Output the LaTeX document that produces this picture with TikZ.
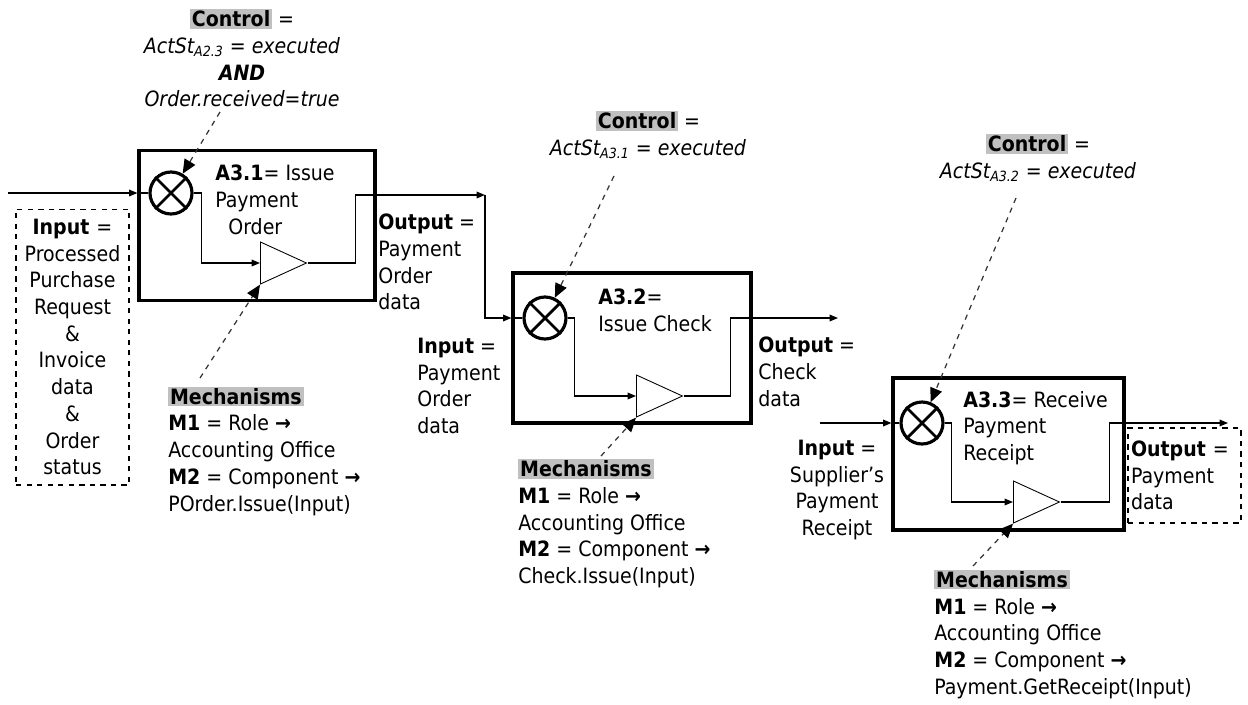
\documentclass[tikz,border=0pt]{standalone}
\usepackage{fontspec}
\setmainfont{DejaVu Sans Condensed}
\usetikzlibrary{arrows.meta,shapes.geometric}
\definecolor{hlgray}{HTML}{C0C0C0}
\definecolor{dashgray}{HTML}{333333}
\newcommand{\hlbox}[1]{{\setlength{\fboxsep}{1pt}\colorbox{hlgray}{\textbf{#1}}}}
\newcommand{\actst}[1]{\textit{ActSt\textsubscript{#1} = executed}}

\begin{document}
\begin{tikzpicture}[x=0.02cm,y=-0.02cm,
  every node/.style={font=\fontsize{12}{15.2}\selectfont,inner sep=0pt},
  actbox/.style={draw,line width=1.8pt,minimum height=3cm},
  joint/.style={draw,circle,line width=1.8pt,minimum size=0.84cm},
  gate/.style={draw,isosceles triangle,isosceles triangle stretches,line width=0.5pt,
    minimum width=0.84cm,minimum height=0.92cm,anchor=lower side},
  flow/.style={line width=0.7pt,-{Triangle[length=4.8pt,width=3.8pt]}},
  trigger/.style={dashed,draw=dashgray,line width=0.7pt,-{Triangle[length=8pt,width=7pt,color=black]}},
  dashbox/.style={draw,dashed,line width=0.6pt,text width=2.14cm,inner xsep=0.06cm}]
  \useasboundingbox (0,0) rectangle (1248,704);

  \node[actbox,minimum width=4.72cm] (b1) at (257,225.5) {};
  \node[actbox,minimum width=4.76cm] (b2) at (632,348) {};
  \node[actbox,minimum width=4.62cm,minimum height=3.04cm] (b3) at (1008.5,454) {};

  \node[joint] (x1) at (171,193) {};
  \node[joint] (x2) at (545,318) {};
  \node[joint] (x3) at (922,423) {};
  \foreach \j in {x1,x2,x3}
    \draw[line width=1.6pt] (\j.north west) -- (\j.south east) (\j.north east) -- (\j.south west);

  \node[gate] (t1) at (260,263) {};
  \node[gate] (t2) at (636,396) {};
  \node[gate] (t3) at (1013,502) {};

  \node[align=center] (c1) at (242,58) {\hlbox{Control} =\\ \actst{A2.3}\\ \textbf{\textit{AND}}\\ \textit{Order.received=true}};
  \node[align=center] (c2) at (648,135) {\hlbox{Control} =\\ \actst{A3.1}};
  \node[align=center] (c3) at (1038,158) {\hlbox{Control} =\\ \actst{A3.2}};

  \node[anchor=west,align=left] (a1) at (215,200) {\textbf{A3.1}= Issue\\Payment\\\hspace*{0.26cm}Order};
  \node[anchor=west,align=left] (a2) at (598,310) {\textbf{A3.2}=\\Issue Check};
  \node[anchor=west,align=left] (a3) at (963,428) {\textbf{A3.3}= Receive\\Payment\\Receipt};

  \node[dashbox,align=center,minimum height=5.52cm] (i1) at (72.5,347) {\textbf{Input} =\\Processed\\Purchase\\Request\\\&\\Invoice\\data\\\&\\Order\\status};
  \node[anchor=west,align=left] (op1) at (378,262) {\textbf{Output} =\\Payment\\Order\\data};
  \node[anchor=west,align=left] (ip2) at (417,386) {\textbf{Input} =\\Payment\\Order\\data};
  \node[anchor=west,align=left] (op2) at (758,372) {\textbf{Output} =\\Check\\data};
  \node[align=center] (ip3) at (837,490) {\textbf{Input} =\\Supplier’s\\Payment\\Receipt};
  \node[dashbox,align=left,minimum height=1.9cm] (op3) at (1184.5,475.5) {\textbf{Output} =\\Payment\\data};

  \node[anchor=west,align=left] (m1) at (168,451) {\hlbox{Mechanisms}\\\textbf{M1} = Role \textbf{→}\\Accounting Office\\\textbf{M2} = Component \textbf{→}\\POrder.Issue(Input)};
  \node[anchor=west,align=left] (m2) at (518,523.5) {\hlbox{Mechanisms}\\\textbf{M1} = Role \textbf{→}\\Accounting Office\\\textbf{M2} = Component \textbf{→}\\Check.Issue(Input)};
  \node[anchor=west,align=left] (m3) at (934,634) {\hlbox{Mechanisms}\\\textbf{M1} = Role \textbf{→}\\Accounting Office\\\textbf{M2} = Component \textbf{→}\\Payment.GetReceipt(Input)};

  \coordinate (in1) at (8,193);
  \coordinate (o1) at (485,195);
  \coordinate (o2) at (838,318);
  \coordinate (in3) at (820,423);
  \coordinate (o3) at (1228,423);
  \draw[flow] (in1) -- (b1.west |- x1);
  \draw[line width=0.7pt] (b1.west |- x1) -- (x1);
  \draw[flow] (x1.east) -- ++(8,0) |- (t1.lower side);
  \draw[flow] (t1.apex) -- ++(48,0) |- (o1);
  \draw[flow] (o1) |- (b2.west |- x2);
  \draw[line width=0.7pt] (b2.west |- x2) -- (x2);
  \draw[flow] (x2.east) -- ++(7,0) |- (t2.lower side);
  \draw[flow] (t2.apex) -- ++(47,0) |- (o2);
  \draw[flow] (in3) -- (b3.west |- x3);
  \draw[line width=0.7pt] (b3.west |- x3) -- (x3);
  \draw[flow] (x3.east) -- ++(7,0) |- (t3.lower side);
  \draw[flow] (t3.apex) -- ++(49,0) |- (o3);

  \coordinate (c1t) at (220,112);
  \coordinate (c2t) at (614,176);
  \coordinate (c3t) at (1016,198);
  \coordinate (m1t) at (200,378);
  \coordinate (m2t) at (601,456);
  \coordinate (m3t) at (973,566);
  \draw[trigger] (c1t) -- (x1);
  \draw[trigger] (c2t) -- (x2);
  \draw[trigger] (c3t) -- (x3);
  \draw[trigger] (m1t) -- (t1.right corner);
  \draw[trigger] (m2t) -- (t2.right corner);
  \draw[trigger] (m3t) -- (t3.right corner);
\end{tikzpicture}
\end{document}
